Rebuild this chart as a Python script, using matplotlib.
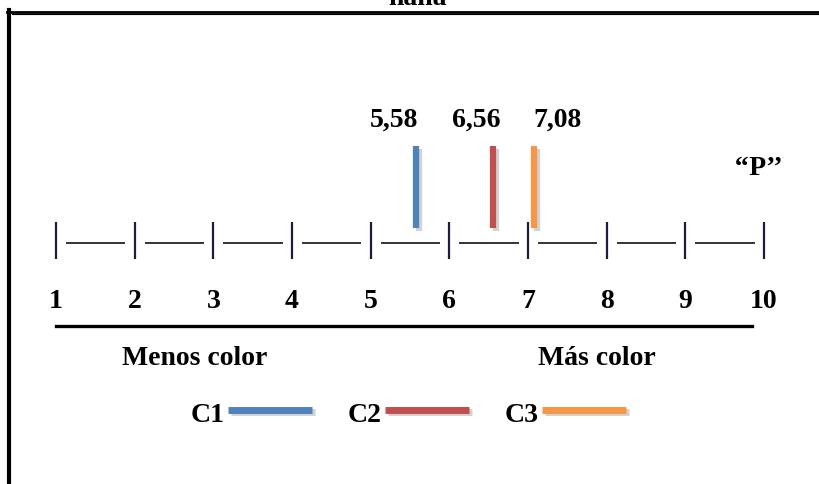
import matplotlib
matplotlib.use('Agg')
import matplotlib.pyplot as plt
import matplotlib.patheffects as pe

# scale 1..10 and the three samples
scale_values = [1, 2, 3, 4, 5, 6, 7, 8, 9, 10]
series_names = ['C1', 'C2', 'C3']
series_values = [5.58, 6.56, 7.08]
value_labels = ['5,58', '6,56', '7,08']
series_colors = ['#4f81bd', '#c0504d', '#f79646']

W, H = 820, 485
plt.rcParams['font.family'] = ['Liberation Serif', 'DejaVu Serif']
plt.rcParams['font.weight'] = 'bold'
FS = 20

fig = plt.figure(figsize=(W / 100, H / 100), dpi=100)

# overlay in pixel coordinates for frame, captions and legend
pix = fig.add_axes([0, 0, 1, 1])
pix.set_xlim(0, W)
pix.set_ylim(H, 0)
pix.axis('off')

# main axes: x in scale units, y in pixel rows
ax = fig.add_axes([0, 0, 1, 1], facecolor='none')
x0_px, step_px = 56, 78.67
ax.set_xlim(1 - x0_px / step_px, 1 + (W - x0_px) / step_px)
ax.set_ylim(H, 0)
ax.axis('off')

# frame (thick outer + thin inner line at the top)
pix.plot([9, 9], [11, H + 5], color='black', lw=3)
pix.plot([7, W + 5], [12.5, 12.5], color='black', lw=2)
pix.plot([12, W + 5], [15.3, 15.3], color='black', lw=0.8)

# cut off title at the very top
pix.text(418, 5, 'nana', ha='center', va='baseline', fontsize=FS, clip_on=False)

# scale: |----|----| ...
tick_color = '#1c1c3c'
for v in scale_values:
    ax.plot([v, v], [223, 260], color=tick_color, lw=1.6, solid_capstyle='butt')
    ax.text(v, 308, str(v), ha='center', va='baseline', fontsize=FS)
for a, b in zip(scale_values[:-1], scale_values[1:]):
    ax.plot([a + 0.14, a + 0.87], [244, 244], color='#333333', lw=1.4)

# underline below numbers
ax.plot([scale_values[0], 9.85], [326.5, 326.5], color='black', lw=2.4)

# value markers, labels nudged sideways so they don't collide
shadow = [pe.SimpleLineShadow(offset=(2, -2), shadow_color='gray', alpha=0.35), pe.Normal()]
label_shift = [-16, -12, 17]  # points
for val, lab, col, dx in zip(series_values, value_labels, series_colors, label_shift):
    ax.plot([val, val], [147, 229], color=col, lw=4.5, solid_capstyle='butt', path_effects=shadow)
    ax.annotate(lab, (val, 127), xytext=(dx, 0), textcoords='offset points',
                ha='center', va='baseline', fontsize=FS)

pix.text(759, 175, '\u2018\u2018P\u2019\u2019', ha='center', va='baseline', fontsize=FS)

pix.text(195, 365, 'Menos color', ha='center', va='baseline', fontsize=FS)
pix.text(597, 365, 'Más color', ha='center', va='baseline', fontsize=FS)

# legend
leg_x = 191
for name, col in zip(series_names, series_colors):
    pix.text(leg_x, 422, name, ha='left', va='baseline', fontsize=FS)
    pix.plot([leg_x + 37, leg_x + 121], [410.5, 410.5], color=col, lw=5,
             solid_capstyle='butt', path_effects=shadow)
    leg_x += 157

fig.savefig('out.png', dpi=100)
